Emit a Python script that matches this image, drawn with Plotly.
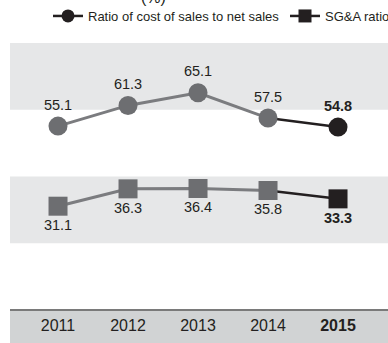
import plotly.graph_objects as go

years = ["2011", "2012", "2013", "2014", "2015"]
cost_ratio = [55.1, 61.3, 65.1, 57.5, 54.8]
sga_ratio = [31.1, 36.3, 36.4, 35.8, 33.3]

GRAY = "#6d6e71"
LINE_GRAY = "#7b7c7f"
DARK = "#231f20"
BAND = "#e6e7e8"
AXIS_BAND = "#d1d3d4"
FONT = "Liberation Sans, Arial, sans-serif"

x = list(range(len(years)))
last = len(years) - 1
mcolors = [GRAY] * last + [DARK]


def fmt(v, i):
    s = f"{v:.1f}"
    return f"<b>{s}</b>" if i == last else s


fig = go.Figure()

series = [
    (cost_ratio, "circle", "Ratio of cost of sales to net sales", "top center", "legend"),
    (sga_ratio, "square", "SG&A ratio", "bottom center", "legend2"),
]
for vals, sym, name, tpos, leg in series:
    # history segment in gray, latest year segment in dark
    fig.add_trace(go.Scatter(x=x[:last], y=vals[:last],
                             mode="lines", line=dict(color=LINE_GRAY, width=3),
                             showlegend=False, hoverinfo="skip"))
    fig.add_trace(go.Scatter(x=x[last - 1:], y=vals[last - 1:], mode="lines",
                             line=dict(color=DARK, width=2.5),
                             showlegend=False, hoverinfo="skip"))
    fig.add_trace(go.Scatter(x=x, y=vals, mode="markers+text",
                             marker=dict(symbol=sym, size=19, color=mcolors, line=dict(width=0)),
                             text=[fmt(v, i) for i, v in enumerate(vals)],
                             textposition=tpos,
                             textfont=dict(family=FONT, size=14.5, color=DARK),
                             showlegend=False, hoverinfo="skip"))
    # legend entry
    fig.add_trace(go.Scatter(x=[None], y=[None], mode="lines+markers", name=name,
                             legend=leg,
                             line=dict(color=DARK, width=2.5),
                             marker=dict(symbol=sym, size=13, color=DARK)))

shapes = []
for lo, hi in [(20, 40), (60, 80)]:
    shapes.append(dict(type="rect", xref="paper", yref="y", x0=0, x1=1, y0=lo, y1=hi,
                       fillcolor=BAND, line=dict(width=0), layer="below"))
shapes.append(dict(type="rect", xref="paper", yref="paper", x0=0, x1=1, y0=-0.2, y1=0,
                   fillcolor=AXIS_BAND, line=dict(width=0), layer="below"))
shapes.append(dict(type="line", xref="paper", yref="paper", x0=0, x1=1, y0=0, y1=0,
                   line=dict(color="#7a7a7a", width=2)))

legend_common = dict(orientation="h", xanchor="left", y=1 - 16 / 343, yanchor="middle",
                     yref="container", xref="container",
                     font=dict(family=FONT, size=13, color=DARK),
                     bgcolor="rgba(0,0,0,0)", itemwidth=30)

fig.update_layout(
    width=388, height=343,
    margin=dict(l=10, r=0, t=43, b=33),
    paper_bgcolor="white", plot_bgcolor="white",
    shapes=shapes,
    font=dict(family=FONT, size=14, color=DARK),
    legend=dict(x=48 / 388, **legend_common),
    legend2=dict(x=285 / 388, **legend_common),
    xaxis=dict(range=[-0.686, 4.714], tickvals=x,
               ticktext=[y if i < last else f"<b>{y}</b>" for i, y in enumerate(years)],
               showgrid=False, zeroline=False, showline=False, ticks="",
               ticklabelstandoff=4,
               tickfont=dict(family=FONT, size=16, color=DARK), fixedrange=True),
    yaxis=dict(range=[0, 80], visible=False, fixedrange=True),
    annotations=[dict(text="(%)", xref="paper", yref="paper", x=143 / 378, y=1.0,
                      yshift=56, showarrow=False, font=dict(family=FONT, size=16, color=DARK))],
)

fig.write_html("out.html")
